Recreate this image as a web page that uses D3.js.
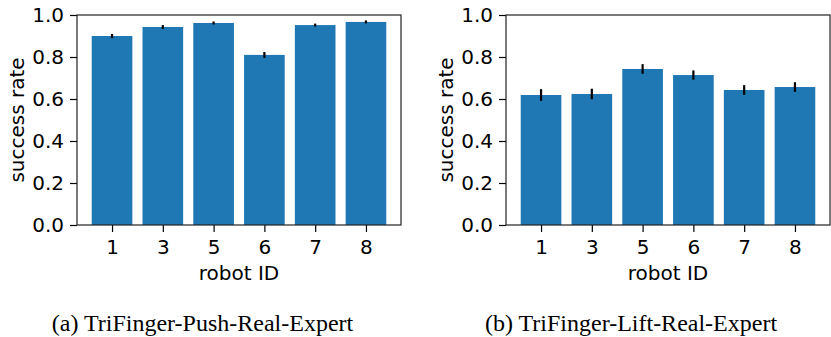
<!DOCTYPE html>
<html>
<head>
<meta charset="utf-8">
<script src="https://cdn.jsdelivr.net/npm/d3@7"></script>
<style>
  body { margin: 0; background: #fff; }
  svg text { fill: #000; }
</style>
</head>
<body>
<div id="chart"></div>
<script>
const robots = ["1", "3", "5", "6", "7", "8"]
const pushRate = [0.900, 0.943, 0.962, 0.810, 0.952, 0.967]
const pushErr = [0.010, 0.009, 0.007, 0.014, 0.007, 0.007]
const liftRate = [0.619, 0.624, 0.743, 0.714, 0.643, 0.657]
const liftErr = [0.028, 0.025, 0.023, 0.022, 0.023, 0.023]
const yTicks = [0.0, 0.2, 0.4, 0.6, 0.8, 1.0]
const captions = ["(a) TriFinger-Push-Real-Expert", "(b) TriFinger-Lift-Real-Expert"]

const width = 831, height = 337
const svg = d3.select("#chart").append("svg")
    .attr("width", width)
    .attr("height", height)

const panels = [
  { left: 77, rates: pushRate, errs: pushErr, caption: captions[0], capX: 202.5 },
  { left: 506, rates: liftRate, errs: liftErr, caption: captions[1], capX: 631 }
]
const plotW = 324, plotTop = 15, plotH = 210
const fontSize = "20px"

panels.forEach(p => {
  let g = svg.append("g").attr("transform", `translate(${p.left}, ${plotTop})`)

  // matplotlib style categorical x: bars at 0..5, width .8, 5% margins
  let xScale = d3.scaleLinear().domain([-0.69, 5.69]).range([0, plotW])
  let yScale = d3.scaleLinear().domain([0, 1]).range([plotH, 0])
  let bw = xScale(0.8) - xScale(0)

  g.selectAll(".bar")
    .data(p.rates)
    .enter()
    .append("rect")
    .attr("x", (d, i) => xScale(i) - bw / 2)
    .attr("y", d => yScale(d))
    .attr("width", bw)
    .attr("height", d => yScale(0) - yScale(d))
    .style("fill", "#1f77b4")

  g.selectAll(".err")
    .data(p.rates)
    .enter()
    .append("line")
    .attr("x1", (d, i) => xScale(i))
    .attr("x2", (d, i) => xScale(i))
    .attr("y1", (d, i) => yScale(d - p.errs[i]))
    .attr("y2", (d, i) => yScale(d + p.errs[i]))
    .attr("stroke", "#000")
    .attr("stroke-width", 2.2)

  let yAxis = d3.axisLeft(yScale).tickValues(yTicks).tickFormat(d3.format(".1f"))
    .tickSize(7).tickPadding(6)
  let xAxis = d3.axisBottom(xScale).tickValues(d3.range(robots.length))
    .tickFormat(i => robots[i]).tickSize(7).tickPadding(7.5)

  let ya = g.append("g").call(yAxis)
  let xa = g.append("g").attr("transform", `translate(0, ${plotH})`).call(xAxis)
  ;[ya, xa].forEach(a => {
    a.select(".domain").remove()
    a.selectAll("line").attr("stroke", "#000").attr("stroke-width", 1.2)
    a.selectAll("text").style("font-family", "DejaVu Sans").style("font-size", fontSize)
  })

  g.append("rect")
    .attr("width", plotW).attr("height", plotH)
    .attr("fill", "none").attr("stroke", "#222").attr("stroke-width", 1.2)

  g.append("text")
    .attr("x", plotW / 2).attr("y", plotH + 55)
    .attr("text-anchor", "middle")
    .style("font-family", "DejaVu Sans").style("font-size", fontSize)
    .text("robot ID")

  g.append("text")
    .attr("transform", `translate(-53.5, ${plotH / 2}) rotate(-90)`)
    .attr("text-anchor", "middle")
    .style("font-family", "DejaVu Sans").style("font-size", fontSize)
    .text("success rate")

  svg.append("text")
    .attr("x", p.capX).attr("y", 331)
    .attr("text-anchor", "middle")
    .style("font-family", "Liberation Serif").style("font-size", "24px")
    .text(p.caption)
})
</script>
</body>
</html>
